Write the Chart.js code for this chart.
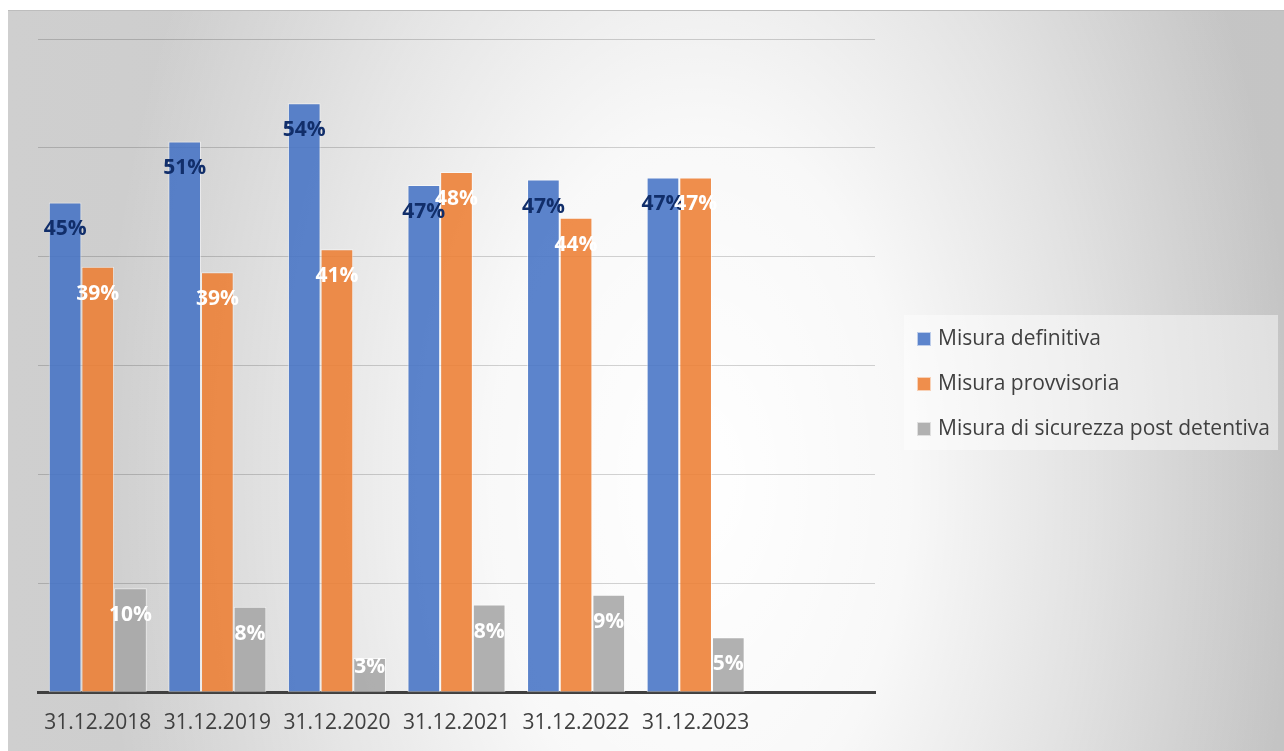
<!DOCTYPE html>
<html>
<head>
<meta charset="utf-8">
<script src="https://cdn.jsdelivr.net/npm/chart.js@4.4.0/dist/chart.umd.min.js"></script>
<style>
  html, body { margin: 0; padding: 0; background: #fff; }
  #wrap { position: relative; width: 1284px; height: 751px; overflow: hidden; }
  #panel {
    position: absolute; left: 8px; top: 10px; right: 0; bottom: 0;
    border-top: 1px solid #bdbdbd;
    background:
      radial-gradient(ellipse 600px 1000px at 690px 470px, rgba(255,255,255,1) 0%, rgba(255,255,255,0.88) 35%, rgba(255,255,255,0.5) 65%, rgba(255,255,255,0) 100%),
      linear-gradient(to right, #cfcfcf 0%, #c4c4c4 100%);
  }
  #c { position: absolute; left: 0; top: 0; }
  #legend {
    position: absolute; left: 904px; top: 315px; width: 374px; height: 135px;
    background: rgba(255,255,255,0.45);
    font-family: "Open Sans", sans-serif; font-size: 21px; color: #404040;
  }
  .item { position: absolute; left: 13px; height: 28px; line-height: 28px; white-space: nowrap; }
  .item i { display: inline-block; width: 12px; height: 12px; margin-right: 7px; vertical-align: -1px;
            border: 1px solid rgba(255,255,255,0.6); }
</style>
</head>
<body>
<div id="wrap">
  <div id="panel"></div>
  <canvas id="c" width="1284" height="755"></canvas>
  <div id="legend"></div>
</div>
<script>
// dati
const categorie = ['31.12.2018', '31.12.2019', '31.12.2020', '31.12.2021', '31.12.2022', '31.12.2023', ''];
const definitiva = [45.0, 50.6, 54.1, 46.6, 47.1, 47.3];
const provvisoria = [39.1, 38.6, 40.7, 47.8, 43.6, 47.3];
const sicurezza = [9.6, 7.9, 3.2, 8.1, 9.0, 5.1];
const nomi = ['Misura definitiva', 'Misura provvisoria', 'Misura di sicurezza post detentiva'];
const colori = ['rgba(68,114,196,0.87)', 'rgba(237,125,49,0.87)', 'rgba(165,165,165,0.87)'];
const coloriEtichette = ['#112e6a', '#ffffff', '#ffffff'];

// etichette dentro le barre (come Excel: non escono dal fondo)
const etichette = {
  id: 'etichette',
  afterDatasetsDraw(chart) {
    const ctx = chart.ctx;
    ctx.save();
    ctx.font = 'bold 21px "Open Sans"';
    ctx.textAlign = 'center';
    ctx.textBaseline = 'middle';
    chart.data.datasets.forEach((ds, i) => {
      const meta = chart.getDatasetMeta(i);
      meta.data.forEach((bar, j) => {
        if (ds.data[j] == null) return;
        ctx.fillStyle = coloriEtichette[i];
        const y = Math.min(bar.y + 27, bar.base - 25);
        ctx.fillText(Math.round(ds.data[j]) + '%', bar.x, y);
      });
    });
    ctx.restore();
  }
};

const serie = [definitiva, provvisoria, sicurezza];

new Chart(document.getElementById('c'), {
  type: 'bar',
  data: {
    labels: categorie,
    datasets: serie.map((d, i) => ({
      label: nomi[i],
      data: d,
      backgroundColor: colori[i],
      borderColor: 'rgba(255,255,255,0.55)',
      borderWidth: 1,
      borderSkipped: false,
      categoryPercentage: 0.82,
      barPercentage: 1.0
    }))
  },
  options: {
    responsive: false,
    animation: false,
    layout: { padding: { left: 38, right: 409, top: 39, bottom: 1 } },
    plugins: { legend: { display: false }, tooltip: { enabled: false } },
    scales: {
      x: {
        grid: { display: false, drawTicks: false },
        border: { display: true, color: '#404040', width: 3 },
        ticks: { color: '#404040', font: { family: 'Open Sans', size: 21 }, padding: 18, maxRotation: 0, autoSkip: false }
      },
      y: {
        min: 0, max: 60,
        ticks: { display: false, stepSize: 10 },
        border: { display: false },
        grid: { color: 'rgba(0,0,0,0.17)', drawTicks: false, lineWidth: 1 }
      }
    }
  },
  plugins: [etichette]
});

// legenda
const leg = document.getElementById('legend');
nomi.forEach((n, i) => {
  const d = document.createElement('div');
  d.className = 'item';
  d.style.top = (8 + i * 45) + 'px';
  d.innerHTML = '<i style="background:' + colori[i] + '"></i>' + n;
  leg.appendChild(d);
});
</script>
</body>
</html>
